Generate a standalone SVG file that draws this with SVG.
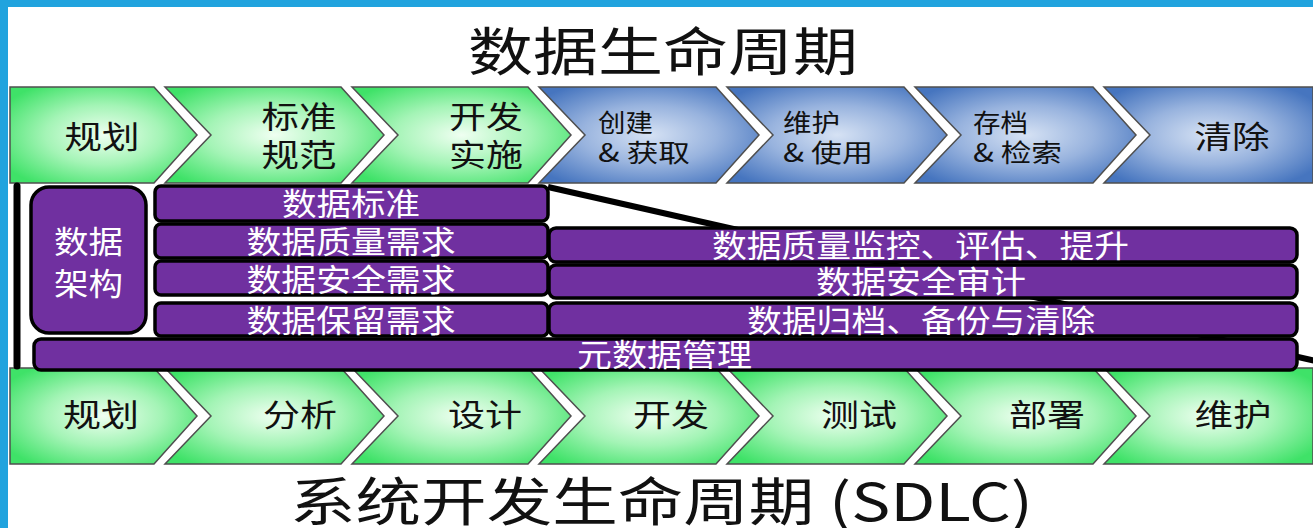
<svg xmlns="http://www.w3.org/2000/svg" width="1313" height="528" viewBox="0 0 1313 528">
<defs>
<radialGradient id="gG" cx="50%" cy="50%" r="62%">
<stop offset="0" stop-color="#effff1"/>
<stop offset="0.5" stop-color="#a4f4b6"/>
<stop offset="1" stop-color="#3fe268"/>
</radialGradient>
<radialGradient id="gB" cx="50%" cy="50%" r="62%">
<stop offset="0" stop-color="#d6e2f4"/>
<stop offset="0.5" stop-color="#98b3de"/>
<stop offset="1" stop-color="#4675bf"/>
</radialGradient>
<style>
.cg{fill:url(#gG);stroke:#4f4f4f;stroke-width:1.5}
.cb{fill:url(#gB);stroke:#4f4f4f;stroke-width:1.5}
.pb{fill:#7030A0;stroke:#000;stroke-width:3.5}
.ct{font-family:"Noto Sans CJK SC","Noto Sans",sans-serif;fill:#111;font-size:31px;text-anchor:middle}
.cs{font-family:"Noto Sans CJK SC","Noto Sans",sans-serif;fill:#111;font-size:25px}
.pt{font-family:"Noto Sans CJK SC","Noto Sans",sans-serif;fill:#fff;font-size:31px;text-anchor:middle}
.tt{font-family:"Noto Sans CJK SC","Noto Sans",sans-serif;fill:#111;font-size:52px}
</style>
</defs>
<rect x="0" y="0" width="1313" height="528" fill="#fff"/>
<rect x="0" y="0" width="1313" height="7" fill="#21A3DE"/>
<rect x="0" y="0" width="8" height="528" fill="#21A3DE"/>

<text class="tt" x="468" y="71" textLength="390" lengthAdjust="spacingAndGlyphs">数据生命周期</text>

<g id="dlc-plan"><polygon class="cg" points="10,87 154,87 197,135 154,183 10,183"/><text class="ct" x="102" y="148" textLength="75" lengthAdjust="spacingAndGlyphs">规划</text></g>
<g id="dlc-std"><polygon class="cg" points="165,87 341,87 384,135 341,183 165,183 211,135"/><text class="ct" x="299" y="128" textLength="75" lengthAdjust="spacingAndGlyphs">标准</text><text class="ct" x="299" y="166" textLength="75" lengthAdjust="spacingAndGlyphs">规范</text></g>
<g id="dlc-dev"><polygon class="cg" points="352,87 528,87 571,135 528,183 352,183 398,135"/><text class="ct" x="486" y="128" textLength="74" lengthAdjust="spacingAndGlyphs">开发</text><text class="ct" x="486" y="166" textLength="74" lengthAdjust="spacingAndGlyphs">实施</text></g>
<g id="dlc-create"><polygon class="cb" points="539,87 716,87 759,135 716,183 539,183 585,135"/><text class="cs" x="598" y="132" textLength="55" lengthAdjust="spacingAndGlyphs">创建</text><text class="cs" x="598" y="162" textLength="92" lengthAdjust="spacingAndGlyphs">&amp; 获取</text></g>
<g id="dlc-use"><polygon class="cb" points="727,87 904,87 947,135 904,183 727,183 773,135"/><text class="cs" x="783" y="132" textLength="57" lengthAdjust="spacingAndGlyphs">维护</text><text class="cs" x="783" y="162" textLength="90" lengthAdjust="spacingAndGlyphs">&amp; 使用</text></g>
<g id="dlc-archive"><polygon class="cb" points="915,87 1093,87 1136,135 1093,183 915,183 961,135"/><text class="cs" x="973" y="132" textLength="55" lengthAdjust="spacingAndGlyphs">存档</text><text class="cs" x="973" y="162" textLength="89" lengthAdjust="spacingAndGlyphs">&amp; 检索</text></g>
<g id="dlc-purge"><polygon class="cb" points="1104,87 1313,87 1313,183 1104,183 1150,135"/><text class="ct" x="1232" y="148" textLength="75" lengthAdjust="spacingAndGlyphs">清除</text></g>

<g id="sdlc-plan"><polygon class="cg" points="10,368 154,368 197,416 154,464 10,464"/><text class="ct" x="101" y="426" textLength="76" lengthAdjust="spacingAndGlyphs">规划</text></g>
<g id="sdlc-analysis"><polygon class="cg" points="165,368 341,368 384,416 341,464 165,464 211,416"/><text class="ct" x="300" y="426" textLength="74" lengthAdjust="spacingAndGlyphs">分析</text></g>
<g id="sdlc-design"><polygon class="cg" points="352,368 528,368 571,416 528,464 352,464 398,416"/><text class="ct" x="485" y="426" textLength="74" lengthAdjust="spacingAndGlyphs">设计</text></g>
<g id="sdlc-dev"><polygon class="cg" points="539,368 716,368 759,416 716,464 539,464 585,416"/><text class="ct" x="671" y="426" textLength="76" lengthAdjust="spacingAndGlyphs">开发</text></g>
<g id="sdlc-test"><polygon class="cg" points="727,368 904,368 947,416 904,464 727,464 773,416"/><text class="ct" x="859" y="426" textLength="76" lengthAdjust="spacingAndGlyphs">测试</text></g>
<g id="sdlc-deploy"><polygon class="cg" points="915,368 1093,368 1136,416 1093,464 915,464 961,416"/><text class="ct" x="1047" y="426" textLength="76" lengthAdjust="spacingAndGlyphs">部署</text></g>
<g id="sdlc-maint"><polygon class="cg" points="1104,368 1313,368 1313,464 1104,464 1150,416"/><text class="ct" x="1233" y="426" textLength="77" lengthAdjust="spacingAndGlyphs">维护</text></g>

<text class="tt" x="290" y="521" textLength="743" lengthAdjust="spacingAndGlyphs">系统开发生命周期 (SDLC)</text>

<g id="connectors">
<line x1="548" y1="187" x2="1316" y2="361" stroke="#000" stroke-width="6"/>
<line x1="17" y1="186" x2="17" y2="366" stroke="#000" stroke-width="7" stroke-linecap="round"/>
</g>

<g id="arch"><rect class="pb" x="31" y="187" width="115" height="146" rx="18"/><text class="pt" x="88.5" y="253" textLength="69" lengthAdjust="spacingAndGlyphs">数据</text><text class="pt" x="88.5" y="295" textLength="69" lengthAdjust="spacingAndGlyphs">架构</text></g>
<g id="std"><rect class="pb" x="155" y="186" width="393" height="35" rx="6"/><text class="pt" x="351" y="215" textLength="138" lengthAdjust="spacingAndGlyphs">数据标准</text></g>
<g id="dq-req"><rect class="pb" x="155" y="224" width="393" height="34" rx="6"/><text class="pt" x="351" y="253" textLength="209" lengthAdjust="spacingAndGlyphs">数据质量需求</text></g>
<g id="sec-req"><rect class="pb" x="155" y="261" width="393" height="34" rx="6"/><text class="pt" x="351" y="291" textLength="209" lengthAdjust="spacingAndGlyphs">数据安全需求</text></g>
<g id="ret-req"><rect class="pb" x="155" y="303" width="393" height="33" rx="6"/><text class="pt" x="351" y="332" textLength="209" lengthAdjust="spacingAndGlyphs">数据保留需求</text></g>
<g id="dq-mon"><rect class="pb" x="549" y="228" width="748" height="34" rx="7"/><text class="pt" x="920.5" y="257" textLength="417" lengthAdjust="spacingAndGlyphs">数据质量监控、评估、提升</text></g>
<g id="sec-audit"><rect class="pb" x="549" y="265" width="748" height="33" rx="7"/><text class="pt" x="921" y="293" textLength="210" lengthAdjust="spacingAndGlyphs">数据安全审计</text></g>
<g id="archive"><rect class="pb" x="549" y="303" width="748" height="33" rx="7"/><text class="pt" x="921" y="332" textLength="348" lengthAdjust="spacingAndGlyphs">数据归档、备份与清除</text></g>
<g id="meta"><rect class="pb" x="34" y="339" width="1263" height="31" rx="7"/><text class="pt" x="664.5" y="366" textLength="175" lengthAdjust="spacingAndGlyphs">元数据管理</text></g>
</svg>
